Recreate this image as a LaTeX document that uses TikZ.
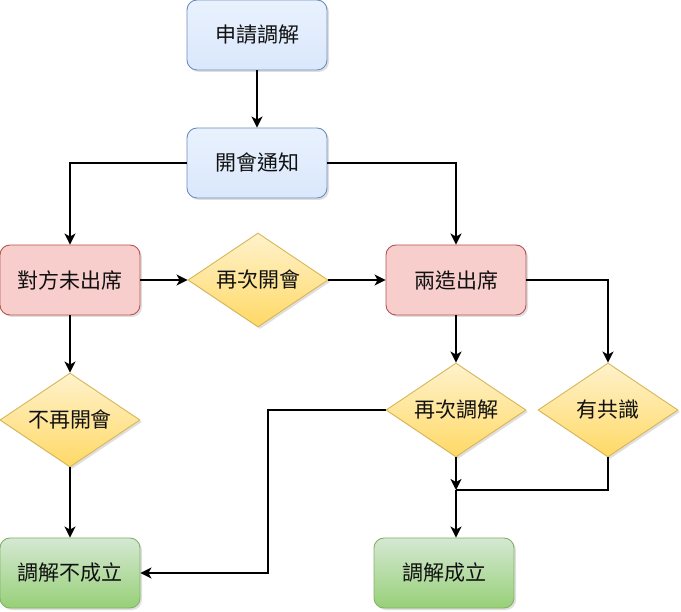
\documentclass[tikz,border=0pt]{standalone}
\usepackage{fontspec}
\setmainfont{Noto Sans CJK TC}
\usetikzlibrary{shapes.geometric,arrows.meta,shadows}
\definecolor{bluefill}{HTML}{DAE8FC}
\definecolor{bluedraw}{HTML}{6C8EBF}
\definecolor{redfill}{HTML}{F8CECC}
\definecolor{reddraw}{HTML}{B85450}
\definecolor{yeltop}{HTML}{FFF2CC}
\definecolor{yelbot}{HTML}{FFD966}
\definecolor{yeldraw}{HTML}{D6B656}
\definecolor{grntop}{HTML}{D5E8D4}
\definecolor{grnbot}{HTML}{97D077}
\definecolor{grndraw}{HTML}{82B366}
\definecolor{txt}{HTML}{111111}
\tikzset{
  base/.style={font=\fontsize{21}{25}\selectfont, text=txt, line width=0.9pt,
    drop shadow={shadow xshift=2pt, shadow yshift=-2pt, opacity=0.25}},
  rbox/.style={base, rectangle, rounded corners=10pt, minimum width=140pt, minimum height=70pt, inner sep=0pt},
  bluebox/.style={rbox, draw=bluedraw, top color=bluefill!60!white, bottom color=bluefill},
  redbox/.style={rbox, draw=reddraw, fill=redfill},
  greenbox/.style={rbox, draw=grndraw, top color=grntop, bottom color=grnbot},
  decision/.style={base, diamond, aspect=1.5, minimum width=140pt, minimum height=94pt, inner sep=0pt,
    draw=yeldraw, top color=yeltop, bottom color=yelbot},
  arr/.style={line width=1.8pt, draw=black, -{Stealth[length=11pt, width=11pt, inset=3pt]}},
  ln/.style={line width=1.8pt, draw=black}
}
\begin{document}
\begin{tikzpicture}[x=1pt, y=-1pt]
\useasboundingbox (0,0) rectangle (681,612);
\node[bluebox] (a) at (257,35) {申請調解};
\node[bluebox] (b) at (257,163) {開會通知};
\node[redbox] (c) at (70,280) {對方未出席};
\node[decision] (d) at (258,280) {再次開會};
\node[redbox] (e) at (456,280) {兩造出席};
\node[decision] (f) at (70,420) {不再開會};
\node[greenbox] (g) at (70,573) {調解不成立};
\node[decision] (h) at (456,410) {再次調解};
\node[decision] (i) at (608,410) {有共識};
\node[greenbox] (j) at (444,573) {調解成立};
\coordinate (k) at (268,410);
\coordinate (m) at (456,490);

\draw[arr] (a) -- (b);
\draw[arr] (b.west) -| (c.north);
\draw[arr] (b.east) -| (e.north);
\draw[arr] (c) -- (d);
\draw[arr] (d) -- (e);
\draw[arr] (c) -- (f);
\draw[arr] (f) -- (g);
\draw[arr] (e) -- (h);
\draw[arr] (e.east) -| (i.north);
\draw[arr] (h.west) -- (k) |- (g.east);
\draw[arr] (h.south) -- (m);
\draw[ln] (i.south) |- (m);
\draw[arr] (m) -- (m |- j.north);
\end{tikzpicture}
\end{document}
